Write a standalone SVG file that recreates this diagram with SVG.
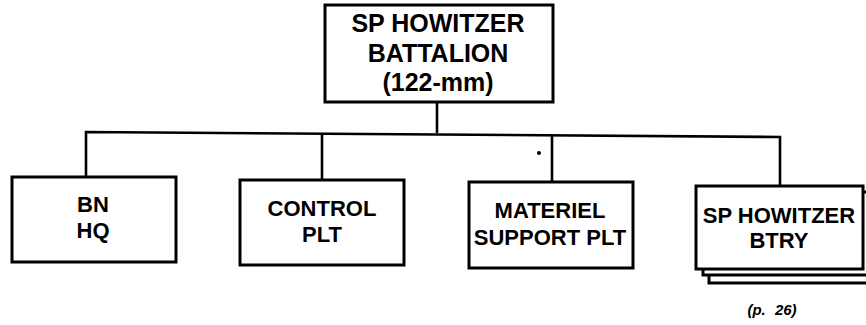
<svg xmlns="http://www.w3.org/2000/svg" width="866" height="325" viewBox="0 0 866 325">
<style>
.box{fill:#fff;stroke:#000;stroke-width:3}
.ln{fill:none;stroke:#000;stroke-width:2.6}
text{font-family:"Liberation Sans",Arial,sans-serif;font-weight:bold;fill:#000;text-anchor:middle}
.t1{font-size:25px}
.t2{font-size:22px}
.note{font-size:15px;font-style:italic;word-spacing:5px}
</style>
<g id="connectors">
<path class="ln" d="M437,102 L437,133"/>
<path class="ln" d="M86,177 L86,132 L780,137 L780,187"/>
<path class="ln" d="M322,134 L322,180"/>
<path class="ln" d="M552,136 L552,182"/>
</g>
<g id="battalion">
<rect class="box" x="325" y="5" width="228" height="97"/>
<text class="t1" x="438" y="32">SP HOWITZER</text>
<text class="t1" x="438" y="62">BATTALION</text>
<text class="t1" x="438" y="91">(122-mm)</text>
</g>
<g id="bnhq">
<rect class="box" x="12" y="177" width="164" height="85"/>
<text class="t2" x="93" y="212">BN</text>
<text class="t2" x="93" y="238">HQ</text>
</g>
<g id="control">
<rect class="box" x="240" y="180" width="164" height="85"/>
<text class="t2" x="322" y="216">CONTROL</text>
<text class="t2" x="322" y="242">PLT</text>
</g>
<g id="materiel">
<rect class="box" x="469" y="182" width="164" height="86"/>
<text class="t2" x="550" y="218">MATERIEL</text>
<text class="t2" x="550" y="245">SUPPORT PLT</text>
</g>
<g id="btry">
<rect class="box" x="709" y="199" width="170" height="84"/>
<rect class="box" x="703" y="192" width="170" height="83"/>
<rect class="box" x="696" y="186" width="167" height="83"/>
<text class="t2" x="779" y="223">SP HOWITZER</text>
<text class="t2" x="779" y="248">BTRY</text>
<text class="note" x="772" y="315">(p. 26)</text>
</g>
<circle cx="539" cy="153" r="2" fill="#000"/>
</svg>
